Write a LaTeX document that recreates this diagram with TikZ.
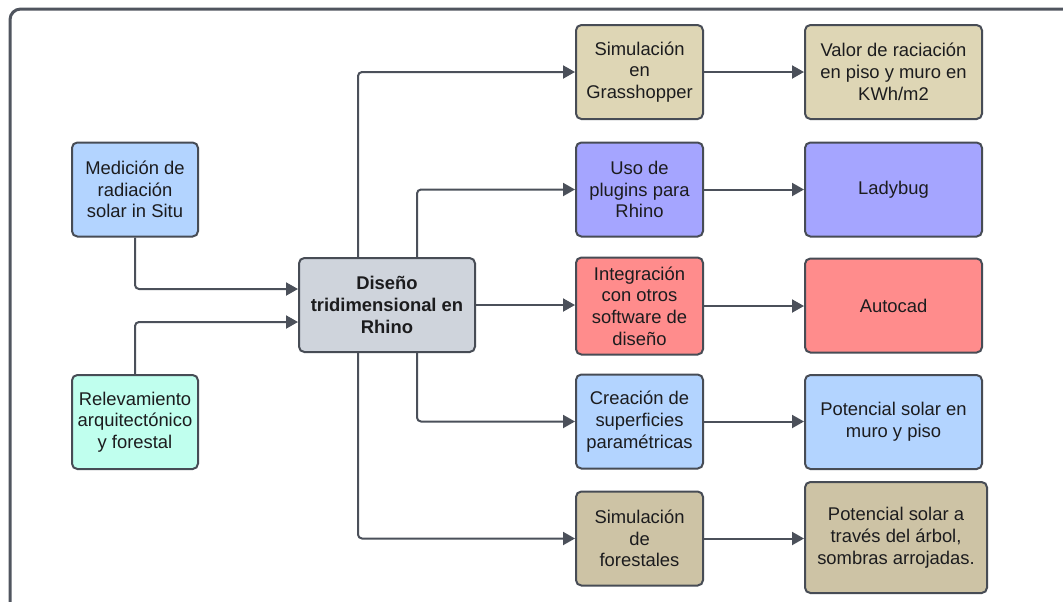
\documentclass[tikz,border=0pt]{standalone}
\usepackage{fontspec}
\setmainfont{Liberation Sans}
\usetikzlibrary{arrows.meta,calc}

\begin{document}
\begin{tikzpicture}[x=0.75pt,y=-0.75pt,
  box/.style={draw=boxLine,line width=1.5pt,rounded corners=4pt,align=center,inner sep=0pt,text=textColor,font=\fontsize{13.8pt}{16.3pt}\selectfont,minimum height=70.5pt},
  leftbox/.style={box,minimum width=94.5pt},
  midbox/.style={box,minimum width=95.25pt},
  rightbox/.style={box,minimum width=132.75pt},
  conn/.style={draw=lineColor,line width=1.5pt,rounded corners=3pt,-{Triangle[length=9pt,width=9.75pt]}}]
\definecolor{boxLine}{RGB}{71,76,85}
\definecolor{lineColor}{RGB}{75,80,90}
\definecolor{frameColor}{RGB}{80,85,95}
\definecolor{textColor}{RGB}{28,28,30}
\definecolor{skyFill}{RGB}{179,212,255}
\definecolor{mintFill}{RGB}{192,255,238}
\definecolor{rhinoFill}{RGB}{207,212,220}
\definecolor{sandFill}{RGB}{222,214,181}
\definecolor{tanFill}{RGB}{205,195,165}
\definecolor{lilacFill}{RGB}{165,165,255}
\definecolor{salmonFill}{RGB}{255,140,140}
\useasboundingbox[fill=white] (0,0) rectangle (1063,601);
\begin{scope}
  \clip (0,0) rectangle (1063,601);
  \draw[frameColor,line width=2.25pt,rounded corners=8pt] (10,9) rectangle (1085,625);
\end{scope}

\node[leftbox,fill=skyFill] (med) at (135,189.5) {Medición de\\radiación\\solar in Situ};
\node[leftbox,fill=mintFill] (rel) at (135,422) {Relevamiento\\arquitectónico\\y forestal};
\node[box,fill=rhinoFill,minimum width=132pt,font=\fontsize{13.8pt}{16.3pt}\selectfont\bfseries] (rhino) at (387,305) {Diseño\\tridimensional en\\Rhino};

\node[midbox,fill=sandFill] (grass) at (639.5,72) {Simulación\\en\\Grasshopper};
\node[midbox,fill=lilacFill] (plug) at (639.5,189.5) {Uso de\\plugins para\\Rhino};
\node[midbox,fill=salmonFill,minimum height=72.75pt] (integ) at (639.5,306) {Integración\\con otros\\software de\\diseño};
\node[midbox,fill=skyFill] (crea) at (639.5,421.5) {Creación de\\superficies\\paramétricas};
\node[midbox,fill=tanFill] (fore) at (639.5,538.5) {Simulación\\de\\forestales};

\node[rightbox,fill=sandFill] (valor) at (893.5,72) {Valor de raciación\\en piso y muro en\\KWh/m2};
\node[rightbox,fill=lilacFill] (lady) at (893.5,189.5) {Ladybug};
\node[rightbox,fill=salmonFill] (auto) at (893.5,305.5) {Autocad};
\node[rightbox,fill=skyFill] (pot) at (893.5,422) {Potencial solar en\\muro y piso};
\node[rightbox,fill=tanFill,minimum width=136.5pt,minimum height=83.25pt] (arbol) at (896,537.5) {Potencial solar a\\través del árbol,\\sombras arrojadas.};

\draw[conn] (med.south) |- ($(rhino.west)+(0,-16)$);
\draw[conn] (rel.north) |- ($(rhino.west)+(0,17)$);

\draw[conn] ($(rhino.north)+(-29,0)$) |- (grass.west);
\draw[conn] ($(rhino.north)+(30,0)$) |- (plug.west);
\draw[conn] (rhino.east) -- (rhino.east -| integ.west);
\draw[conn] ($(rhino.south)+(30,0)$) |- (crea.west);
\draw[conn] ($(rhino.south)+(-29,0)$) |- (fore.west);

\foreach \a/\b in {grass/valor,plug/lady,integ/auto,crea/pot,fore/arbol}
  \draw[conn] (\a.east) -- (\a.east -| \b.west);
\end{tikzpicture}
\end{document}
